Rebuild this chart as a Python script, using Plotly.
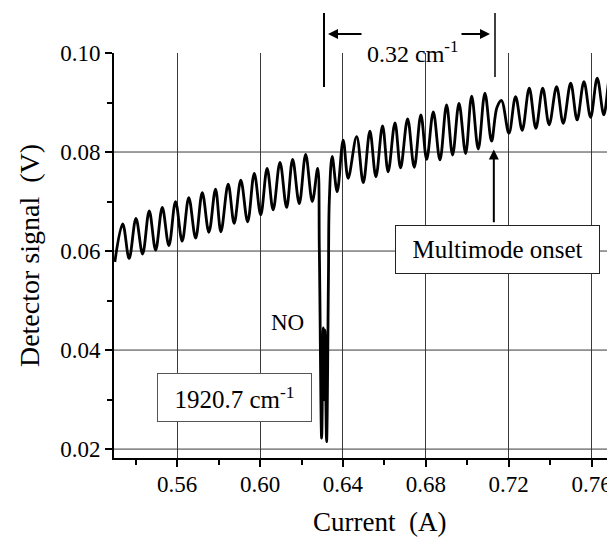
import plotly.graph_objects as go

# Data (peaks / troughs of the etalon fringe trace)
current = [0.5299, 0.5337, 0.5368, 0.5401, 0.5433, 0.5465, 0.5496, 0.5528, 0.5560, 0.5592,
           0.5624, 0.5656, 0.5689, 0.5721, 0.5753, 0.5785, 0.5811, 0.5846, 0.5875, 0.5907,
           0.5940, 0.5972, 0.6003, 0.6034, 0.6063, 0.6096, 0.6128, 0.6157, 0.6189, 0.6220,
           0.6252, 0.6278,
           0.6286, 0.6297, 0.6305, 0.6310, 0.6313, 0.6321, 0.6330, 0.6334,
           0.6348, 0.6372, 0.6401, 0.6425, 0.6466, 0.6498, 0.6530, 0.6559, 0.6591, 0.6618,
           0.6651, 0.6678, 0.6712, 0.6744, 0.6776, 0.6804, 0.6836, 0.6868, 0.6900, 0.6929,
           0.6960, 0.6992, 0.7021, 0.7053, 0.7085, 0.7117,
           0.7143, 0.7165, 0.7201, 0.7233, 0.7265, 0.7299, 0.7331, 0.7364, 0.7395, 0.7431,
           0.7463, 0.7499, 0.7530, 0.7563, 0.7595, 0.7627, 0.7659, 0.7688, 0.7704]

signal = [0.0578, 0.0655, 0.0585, 0.0666, 0.0594, 0.0681, 0.0602, 0.0688, 0.0611, 0.0700,
          0.0620, 0.0708, 0.0626, 0.0718, 0.0638, 0.0725, 0.0639, 0.0735, 0.0656, 0.0743,
          0.0659, 0.0757, 0.0673, 0.0767, 0.0683, 0.0779, 0.0688, 0.0785, 0.0696, 0.0795,
          0.0700, 0.0767,
          0.0600, 0.0222, 0.0445, 0.0300, 0.0440, 0.0215, 0.0550, 0.0700,
          0.0791, 0.0720, 0.0824, 0.0747, 0.0831, 0.0738, 0.0842, 0.0750, 0.0853, 0.0760,
          0.0859, 0.0768, 0.0867, 0.0769, 0.0875, 0.0785, 0.0881, 0.0784, 0.0895, 0.0794,
          0.0898, 0.0797, 0.0913, 0.0806, 0.0919, 0.0822,
          0.0890, 0.0904, 0.0838, 0.0912, 0.0844, 0.0929, 0.0848, 0.0929, 0.0855, 0.0932,
          0.0858, 0.0939, 0.0865, 0.0942, 0.0870, 0.0949, 0.0875, 0.0952, 0.0925]

x_ticks = [0.56, 0.60, 0.64, 0.68, 0.72, 0.76]
x_tick_labels = ["0.56", "0.60", "0.64", "0.68", "0.72", "0.76"]
y_ticks = [0.02, 0.04, 0.06, 0.08, 0.10]
y_tick_labels = ["0.02", "0.04", "0.06", "0.08", "0.10"]
y_grid = [0.02, 0.04, 0.06, 0.08]

FONT = "Liberation Serif, Times New Roman, Times, serif"
GRID = "#3a3a3a"

fig = go.Figure()
fig.add_trace(go.Scatter(x=current, y=signal, mode="lines",
                         line=dict(color="black", width=2.8, shape="spline", smoothing=1.0),
                         showlegend=False, hoverinfo="skip"))

axis_common = dict(showline=True, linecolor="black", linewidth=2, ticks="outside",
                   tickcolor="black", ticklen=7, tickwidth=1.5,
                   gridcolor=GRID, gridwidth=1, zeroline=False,
                   tickfont=dict(family=FONT, size=23, color="black"))

fig.update_xaxes(range=[0.5295, 0.7708], tickvals=x_ticks, ticktext=x_tick_labels,
                 showgrid=True, ticklabelstandoff=-3,
                 minor=dict(tickvals=[0.54, 0.58, 0.62, 0.66, 0.70, 0.74], ticks="outside",
                            ticklen=5, tickcolor="black", showgrid=False),
                 **axis_common)
fig.update_yaxes(range=[0.0182, 0.1000], tickvals=y_ticks, ticktext=y_tick_labels,
                 showgrid=False,
                 minor=dict(tickvals=[0.03, 0.05, 0.07, 0.09], ticks="outside",
                            ticklen=5, tickcolor="black", showgrid=False),
                 title=dict(text="Detector signal  (V)", font=dict(family=FONT, size=28, color="black"),
                            standoff=12),
                 **axis_common)

# x-axis title (placed as in the reference, slightly right of the plot centre)
fig.add_annotation(xref="paper", yref="paper", x=0.53, y=-0.157, text="Current  (A)",
                   showarrow=False, xanchor="center", yanchor="middle",
                   font=dict(family=FONT, size=27, color="black"))

# horizontal grid lines (none at the top edge, as in the reference)
for gv in y_grid:
    fig.add_shape(type="line", xref="paper", yref="y", x0=0, x1=1, y0=gv, y1=gv,
                  line=dict(color=GRID, width=1), layer="below")

# bracket lines for the 0.32 cm-1 spacing
fig.add_shape(type="line", xref="paper", yref="paper", x0=0.42, x1=0.42, y0=1.099, y1=0.916,
              line=dict(color="black", width=2))
fig.add_shape(type="line", xref="paper", yref="paper", x0=0.762, x1=0.762, y0=1.099, y1=0.941,
              line=dict(color="black", width=1.5))

fig.add_annotation(xref="paper", yref="paper", x=0.597, y=1.044, text="0.32 cm<sup>-1</sup>",
                   showarrow=False, font=dict(family=FONT, size=24, color="black"))
fig.add_annotation(xref="paper", yref="paper", x=0.428, y=1.047, ax=35, ay=0,
                   text="", showarrow=True,
                   arrowhead=2, arrowsize=1, arrowwidth=2, arrowcolor="black")
fig.add_annotation(xref="paper", yref="paper", x=0.752, y=1.047, ax=-30, ay=0,
                   text="", showarrow=True,
                   arrowhead=2, arrowsize=1, arrowwidth=2, arrowcolor="black")

# Multimode onset arrow
fig.add_annotation(x=0.7128, y=0.0805, ax=0.7128, ay=0.0655, axref="x", ayref="y",
                   text="", showarrow=True, arrowhead=2, arrowsize=1, arrowwidth=2,
                   arrowcolor="black")

fig.add_annotation(x=0.6134, y=0.0455, text="NO", showarrow=False,
                   font=dict(family=FONT, size=23, color="black"))

fig.add_annotation(x=0.7148, y=0.0604, text="Multimode onset", showarrow=False,
                   font=dict(family=FONT, size=25, color="black"),
                   bgcolor="white", bordercolor="#222", borderwidth=1, borderpad=2,
                   width=199, height=43)

fig.add_annotation(x=0.5878, y=0.0304, text="1920.7 cm<sup>-1</sup>", showarrow=False,
                   font=dict(family=FONT, size=25, color="black"),
                   bgcolor="white", bordercolor="#555", borderwidth=1, borderpad=2,
                   width=149, height=43)

# page body has an 8px margin, so the figure is sized/offset to land on the reference pixels
fig.update_layout(width=607, height=532, margin=dict(l=106, r=1, t=45, b=82),
                  plot_bgcolor="white", paper_bgcolor="white",
                  font=dict(family=FONT, color="black"))

fig.write_html("out.html")
